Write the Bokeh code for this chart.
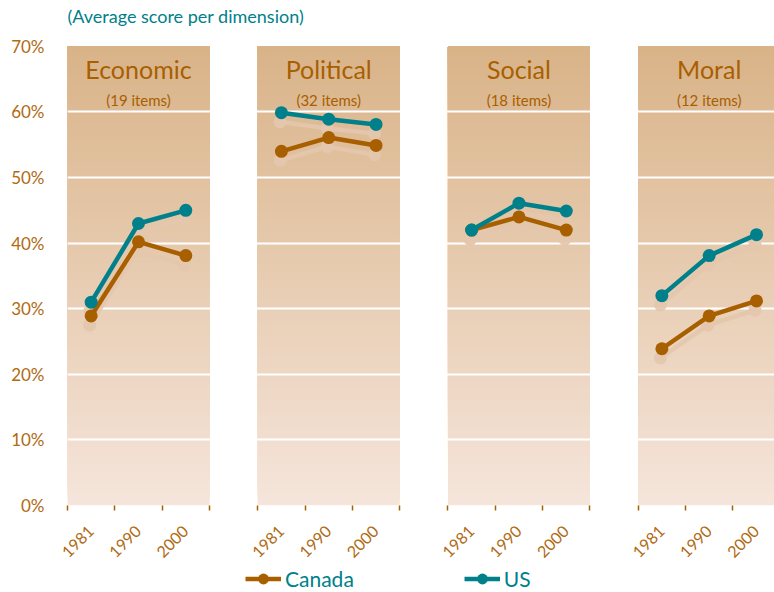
import math
from bokeh.plotting import figure
from bokeh.layouts import column
from bokeh.models import FixedTicker, Legend, LegendItem, Range1d
from bokeh.core.properties import value
from bokeh.embed import file_html
from bokeh.resources import INLINE

# ---------------- data ----------------
title_text = "(Average score per dimension)"
dimensions = ["Economic", "Political", "Social", "Moral"]
item_counts = ["(19 items)", "(32 items)", "(18 items)", "(12 items)"]
years = ["1981", "1990", "2000"]
canada_economic = [28.9, 40.2, 38.1]
canada_political = [54.0, 56.1, 54.9]
canada_social = [42.0, 44.0, 42.0]
canada_moral = [23.9, 28.9, 31.2]
us_economic = [31.0, 43.0, 45.0]
us_political = [59.9, 58.9, 58.1]
us_social = [42.0, 46.1, 44.9]
us_moral = [32.0, 38.1, 41.3]
y_ticks = [0, 10, 20, 30, 40, 50, 60, 70]
y_tick_labels = ["0%", "10%", "20%", "30%", "40%", "50%", "60%", "70%"]
series_names = ["Canada", "US"]

canada = [canada_economic, canada_political, canada_social, canada_moral]
us = [us_economic, us_political, us_social, us_moral]

# ---------------- styles ----------------
BROWN = "#a85f00"
BROWN_TEXT = "#b06a12"
TEAL = "#00808b"
SHADOW = "#e3c7ad"
TOP_BG = (0xd9, 0xb3, 0x88)
BOT_BG = (0xf5, 0xe5, 0xdb)
FONT = "Lato"
STEP = 4.02          # panel offset in x units
PANEL_W = 3.0
Y_MAX = 70.0
Y_TOP = 77.0         # extra headroom above the panels for the titles

p = figure(width=774, height=565, x_range=Range1d(0, 14.94), y_range=Range1d(0, Y_TOP),
           output_backend="svg", toolbar_location=None,
           min_border_left=67, min_border_right=0, min_border_top=0, min_border_bottom=55)
p.outline_line_color = None
p.grid.visible = False
p.background_fill_color = "white"
p.border_fill_color = "white"

# gradient background for each panel (stacked bands, each reaching the top -> no seams)
N = 140
bl, br, bb, bt, bc = [], [], [], [], []
for i in range(len(dimensions)):
    x0 = i * STEP
    for k in range(N):
        y0 = Y_MAX * k / N
        t = (y0 + Y_MAX / N / 2) / Y_MAX
        c = tuple(int(round(BOT_BG[j] + (TOP_BG[j] - BOT_BG[j]) * t)) for j in range(3))
        bl.append(x0); br.append(x0 + PANEL_W); bb.append(y0); bt.append(Y_MAX)
        bc.append("#%02x%02x%02x" % c)
p.quad(left=bl, right=br, bottom=bb, top=bt, fill_color=bc, line_color=None)

# white gridlines
p.hspan(y=y_ticks[1:-1], line_color="white", line_width=2)

# series
for i in range(len(dimensions)):
    xs = [round(i * STEP + j + 0.5, 3) for j in range(len(years))]
    for vals in (canada[i], us[i]):
        sx = [x - 0.03 for x in xs]
        sy = [v - 1.4 for v in vals]
        p.line(sx, sy, line_color=SHADOW, line_width=4.5, line_alpha=0.9)
        p.scatter(sx, sy, size=13, fill_color=SHADOW, line_color=None, fill_alpha=0.9)
    for vals, col in ((canada[i], BROWN), (us[i], TEAL)):
        p.line(xs, vals, line_color=col, line_width=4.5)
        p.scatter(xs, vals, size=13, fill_color=col, line_color=None)

# panel titles
cx = [i * STEP + PANEL_W / 2 for i in range(len(dimensions))]
p.text(x=cx, y=[66.6] * 4, text=dimensions, text_align="center", text_baseline="middle",
       text_color=BROWN, text_font=value(FONT), text_font_size="25px")
p.text(x=cx, y=[61.8] * 4, text=item_counts, text_align="center", text_baseline="middle",
       text_color=BROWN, text_font=value(FONT), text_font_size="15px")

# chart title (inside the headroom of the frame)
p.text(x=[0.0], y=[74.6], text=[title_text], text_align="left", text_baseline="middle",
       text_color=TEAL, text_font=value(FONT), text_font_size="18px")

# x axis
label_pos = [round(i * STEP + j + 0.5, 3) for i in range(len(dimensions)) for j in range(len(years))]
bounds = [round(i * STEP + j, 3) for i in range(len(dimensions)) for j in range(len(years) + 1)]
p.xaxis.ticker = FixedTicker(ticks=label_pos, minor_ticks=bounds)
p.xaxis.major_label_overrides = {pos: years[k % 3] for k, pos in enumerate(label_pos)}
p.xaxis.major_label_orientation = math.pi / 4
p.xaxis.axis_line_color = None
p.xaxis.major_tick_out = 0
p.xaxis.major_tick_in = 0
p.xaxis.minor_tick_out = 5
p.xaxis.minor_tick_in = 0
p.xaxis.minor_tick_line_color = BROWN
p.xaxis.minor_tick_line_width = 1.5
p.xaxis.major_label_text_color = BROWN_TEXT
p.xaxis.major_label_text_font = FONT
p.xaxis.major_label_text_font_size = "16px"
p.xaxis.major_label_standoff = 18

# y axis
p.yaxis.ticker = FixedTicker(ticks=y_ticks)
p.yaxis.major_label_overrides = {t: l for t, l in zip(y_ticks, y_tick_labels)}
p.yaxis.axis_line_color = None
p.yaxis.major_tick_line_color = None
p.yaxis.minor_tick_line_color = None
p.yaxis.major_label_text_color = BROWN_TEXT
p.yaxis.major_label_text_font = FONT
p.yaxis.major_label_text_font_size = "17px"
p.yaxis.major_label_standoff = 17

# legend in its own strip below the chart
leg = figure(width=774, height=27, x_range=Range1d(0, 1), y_range=Range1d(0, 1),
             output_backend="svg", toolbar_location=None, x_axis_type=None, y_axis_type=None,
             min_border_left=0, min_border_right=0, min_border_top=0, min_border_bottom=0)
leg.outline_line_color = None
leg.grid.visible = False
items = []
for name, col in zip(series_names, (BROWN, TEAL)):
    lr = leg.line([-5, -4], [-5, -4], line_color=col, line_width=4.5)
    cr = leg.scatter([-5], [-5], size=13, fill_color=col, line_color=None)
    items.append(LegendItem(label=name, renderers=[lr, cr]))
legend = Legend(items=items, orientation="horizontal", location=(178, 0), spacing=110,
                glyph_width=36, glyph_height=27, label_standoff=4,
                label_text_font_size="21px", label_text_color=TEAL, label_text_font=FONT,
                border_line_color=None, background_fill_alpha=0, padding=0, margin=0)
leg.add_layout(legend, "center")

layout = column(p, leg, spacing=0)
open("out.html", "w").write(file_html(layout, INLINE))
